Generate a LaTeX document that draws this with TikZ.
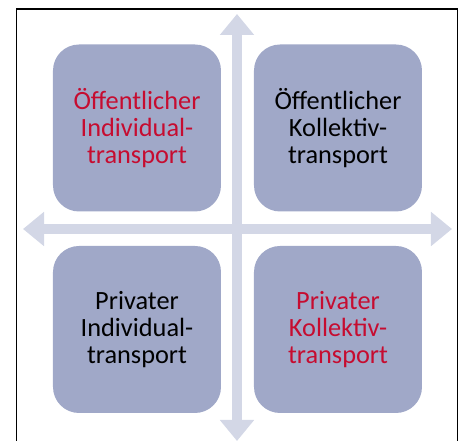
\documentclass[tikz,border=0pt]{standalone}
\usepackage{fontspec}
\setmainfont{Carlito}
\usepackage{tikz}
\usetikzlibrary{arrows.meta}

\definecolor{boxfill}{RGB}{160,168,200}
\definecolor{axisfill}{RGB}{211,215,230}
\definecolor{redtext}{RGB}{198,12,48}

\tikzset{
  quadrant/.style={fill=boxfill, draw=none, rounded corners=19.5pt,
    minimum width=126pt, minimum height=125.25pt, inner sep=0pt,
    align=center, font=\fontsize{19.75pt}{20.5pt}\selectfont},
  axis/.style={draw=axisfill, line width=7.5pt,
    {Triangle[width=24.75pt,length=15.75pt]}-{Triangle[width=24.75pt,length=15.75pt]}}
}

\begin{document}
\begin{tikzpicture}[x=0.75pt,y=0.75pt,yscale=-1,xscale=1]
\useasboundingbox (0,0) rectangle (462,441);

%Frame, open at the bottom
\draw [line width=1.1pt] (16.5,445) -- (16.5,9) -- (457.5,9) -- (457.5,445) ;

%Axes ends
\coordinate (up) at (237,14);
\coordinate (down) at (237,441);
\coordinate (west) at (23,229);
\coordinate (east) at (452,229);

%Axes
\draw [axis] (up) -- (down) ;
\draw [axis] (west) -- (east) ;

%Quadrants
\node [quadrant, text=redtext] (oeffInd) at (137,128) {Öffentlicher\\Individual-\\transport};
\node [quadrant] (oeffKoll) at (338,128) {Öffentlicher\\Kollektiv-\\transport};
\node [quadrant] (privInd) at (137,329.5) {Privater\\Individual-\\transport};
\node [quadrant, text=redtext] (privKoll) at (338,329.5) {Privater\\Kollektiv-\\transport};

\end{tikzpicture}
\end{document}
